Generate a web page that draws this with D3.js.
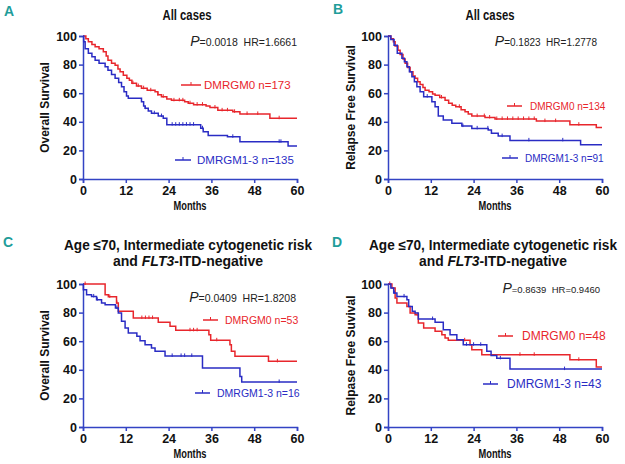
<!DOCTYPE html>
<html>
<head>
<meta charset="utf-8">
<script src="https://cdn.jsdelivr.net/npm/d3@7"></script>
<style>
  body { margin: 0; background: #fff; }
  svg { display: block; }
  .narrow { font-family: "Liberation Sans Narrow", "Arial Narrow", "Liberation Sans", Arial, sans-serif; font-weight: bold; }
  .plain { font-family: "Liberation Sans", Arial, sans-serif; }
</style>
</head>
<body>
<svg width="625" height="464"></svg>
<script>
var RED = "#e8262c", BLUE = "#2a2cc4", AXIS = "#3343c4", TEAL = "#1f9d9a";

var monthTicks = [0, 12, 24, 36, 48, 60];
var survTicks = [0, 20, 40, 60, 80, 100];

// panel A: overall survival, all cases
var osAllM0 = [[0,100],[0.8,98],[1.5,96],[2.5,94],[3.4,92.5],[4.5,91],[5.7,89],[6.5,86],[7,83],[8,81],[9,79.5],[9.8,77],[10.4,75],[11.3,72.5],[12.3,70.5],[13,69],[13.7,67],[15,65],[16.4,63.5],[18,62],[20.2,61],[21,59],[22,57.5],[23.5,56],[24.8,55],[28.5,54],[29.5,53],[31,52],[34.5,51],[35.6,50],[37.8,48],[42,47],[44,45.5],[52.4,42.5],[60,42.5]];
var osAllM13 = [[0,100],[0.2,96],[0.6,91],[1.5,88],[2.5,85.5],[3.4,83],[4.5,81],[6.2,78.5],[7,76],[8,73],[9,70.5],[10,67.5],[10.8,64.5],[11.5,61],[12.2,58],[12.7,56.5],[15.5,56.5],[16.4,54],[17,51],[17.4,49.5],[18.3,47.5],[19.2,46],[21.1,44],[22.5,42.5],[23.5,38],[32.3,38],[33,35.5],[33.7,33],[35.1,30.5],[40.5,29.5],[44,26],[57.5,23],[60,23]];
var osAllM0Cens = [14, 15.5, 17, 19, 21, 22.5, 25.5, 27, 28, 30, 32, 33.5, 37, 39, 40.5, 42.5, 46, 49, 55];
var osAllM13Cens = [17.5, 20, 22, 25, 26, 27, 28, 29, 30, 31, 33.5, 42, 55, 55.5];

// panel B: relapse free survival, all cases
var rfsAllM0 = [[0,100],[0.8,98],[1.5,96],[2,93],[2.8,90],[3.4,87],[4.2,84],[4.8,81],[5.5,78],[6.2,75],[7,72],[7.6,70.5],[8.3,68],[9,66],[9.8,64],[10.4,62],[11.5,61],[12.5,59.5],[13.2,58.5],[14.5,57],[16,55],[17,53],[18,51.5],[19,50.5],[20.5,48.5],[21.6,47],[22.5,45.5],[23.5,44],[27.2,43],[30,42],[41.6,40.5],[51,38],[58.4,36],[60,36]];
var rfsAllM13 = [[0,100],[0.8,97.5],[1.7,93.5],[2.6,88],[3.9,84.5],[4.6,82],[5.3,78.5],[6,75],[6.7,71.5],[7.4,68],[8.1,64.5],[9,61],[10,57.6],[12.3,54],[13.2,50.5],[14.1,44],[15.5,41.3],[17.9,39],[20.7,37],[23.5,35.4],[28.1,34.3],[29,32],[30.9,30],[34.2,27],[54,24],[60,24]];
var rfsAllM0Cens = [15, 20, 25, 27, 28.5, 30.5, 32, 33.5, 35, 36.5, 38, 39.5, 41, 44, 47, 53.5];
var rfsAllM13Cens = [11, 21, 25, 28, 32, 39.5, 49];

// panel C: overall survival, age <=70 subgroup
var osSubM0 = [[0,100],[6.2,92.5],[7.1,91],[9.4,86.7],[9.9,81],[14.1,76.2],[21.1,73.2],[24.4,70.4],[26,67.6],[35.3,64.5],[35.8,60.6],[41.2,57.5],[41.6,53],[42.6,49.4],[52,45.9],[60,45.9]];
var osSubM13 = [[0,100],[0.1,96],[1,92.5],[2.4,91.3],[3.8,89],[5.2,86.7],[6.2,85.5],[9.1,83.2],[9.9,79.7],[10.8,74],[11.8,69.2],[12.7,65.7],[15.1,63.4],[16,60.3],[17.4,57.5],[19.2,55.2],[20.2,53],[23,49.7],[33.5,41.2],[44,35.4],[44.5,31.5],[60,31.5]];
var osSubM0Cens = [0.6, 7.5, 9.5, 16.5, 17.5, 18.5, 19.5, 30, 31, 32, 37.5, 54.5];
var osSubM13Cens = [3, 4, 9.5, 25, 27.5, 28.5, 30.5, 55];

// panel D: relapse free survival, age <=70 subgroup
var rfsSubM0 = [[0,100],[1.1,97.2],[2,90.2],[2.5,86.7],[5.3,84.3],[6.2,79.7],[7.6,78.5],[8.5,72.7],[10,69.2],[13.2,66.9],[15.1,64.5],[16,62.2],[16.9,60.6],[23,57.5],[23.5,54],[26.3,50.5],[51,47],[58.4,42],[60,42]];
var rfsSubM13 = [[0,100],[0.8,97.2],[1.6,93.7],[2.5,91.3],[5.3,89],[5.8,84.3],[6.8,80.9],[7.6,79.7],[8.5,75.5],[13.2,73.2],[15.5,68],[17.4,64.5],[19.3,61],[21.1,57.5],[27.7,53],[28.9,50],[30.5,48],[34.2,40.5],[60,40.5]];
var rfsSubM0Cens = [0.5, 8.2, 21.5, 37, 41, 53.5];
var rfsSubM13Cens = [1.8, 4.5, 12.5, 22, 24, 26, 31.5, 49.5];

var panels = [
  { letter: "A", lx: 4, ly: 16, x0: 83, x1: 297, y0: 179, y1: 36, ylab: "Overall Survival", ylabX: 49,
    title: ["All cases"], tw: [49], tsize: 15, tx: 187, ty: 20,
    stat: "=0.0018  HR=1.6661", sx: 297, sy: 46, pSize: 14, sSize: 10.5,
    m0: osAllM0, m13: osAllM13, c0: osAllM0Cens, c13: osAllM13Cens,
    leg0: { x: 181, w: 20, y: 85, text: "DMRGM0 n=173", size: 11.5, gap: 3 },
    leg13: { x: 175, w: 16, y: 160, text: "DMRGM1-3 n=135", size: 11.5, gap: 6 } },
  { letter: "B", lx: 333, ly: 14, x0: 388, x1: 602, y0: 179, y1: 36, ylab: "Relapse Free Survival", ylabX: 355,
    title: ["All cases"], tw: [49], tsize: 15, tx: 490, ty: 20,
    stat: "=0.1823  HR=1.2778", sx: 597, sy: 46, pSize: 14, sSize: 10,
    m0: rfsAllM0, m13: rfsAllM13, c0: rfsAllM0Cens, c13: rfsAllM13Cens,
    leg0: { x: 507, w: 15, y: 106, text: "DMRGM0 n=134", size: 10, gap: 8 },
    leg13: { x: 502, w: 16, y: 158, text: "DMRGM1-3 n=91", size: 10, gap: 7 } },
  { letter: "C", lx: 3, ly: 247, x0: 83, x1: 297, y0: 427, y1: 284, ylab: "Overall Survival", ylabX: 49,
    title: ["Age \u226470, Intermediate cytogenetic risk", "and |FLT3|-ITD-negative"], tw: [248, 150], tsize: 13.8, tx: 188, ty: 250,
    stat: "=0.0409  HR=1.8208", sx: 296, sy: 302, pSize: 14, sSize: 10.5,
    m0: osSubM0, m13: osSubM13, c0: osSubM0Cens, c13: osSubM13Cens,
    leg0: { x: 203, w: 15, y: 320, text: "DMRGM0 n=53", size: 10.5, gap: 7 },
    leg13: { x: 195, w: 15, y: 393, text: "DMRGM1-3 n=16", size: 10.5, gap: 7 } },
  { letter: "D", lx: 332, ly: 247, x0: 388, x1: 602, y0: 427, y1: 284, ylab: "Relpase Free Suvival", ylabX: 355,
    title: ["Age \u226470, Intermediate cytogenetic risk", "and |FLT3|-ITD-negative"], tw: [248, 148], tsize: 13.8, tx: 493, ty: 250,
    stat: "=0.8639  HR=0.9460", sx: 600, sy: 293, pSize: 14, sSize: 9.5,
    m0: rfsSubM0, m13: rfsSubM13, c0: rfsSubM0Cens, c13: rfsSubM13Cens,
    leg0: { x: 498, w: 15, y: 336, text: "DMRGM0 n=48", size: 12, gap: 9 },
    leg13: { x: 483, w: 15, y: 384, text: "DMRGM1-3 n=43", size: 12, gap: 9 } }
];

var svg = d3.select("svg");

function stepValue(data, t) {
  var v = data[0][1];
  for (var i = 0; i < data.length; i++) {
    if (data[i][0] <= t) v = data[i][1];
  }
  return v;
}

panels.forEach(function(p) {
  var x = d3.scaleLinear().domain([0, 60]).range([p.x0, p.x1]);
  var y = d3.scaleLinear().domain([0, 100]).range([p.y0, p.y1]);
  var g = svg.append("g");

  // panel letter
  g.append("text").attr("class", "narrow").attr("x", p.lx).attr("y", p.ly)
    .attr("fill", TEAL).style("font-size", "14px").text(p.letter);

  // title (pipes mark italic parts), squeezed to the condensed width of the original
  p.title.forEach(function(line, i) {
    var t = g.append("text").attr("class", "narrow").attr("x", p.tx).attr("y", p.ty + i * 16)
      .attr("text-anchor", "middle").style("font-size", p.tsize + "px").attr("fill", "#111")
      .attr("textLength", p.tw[i]).attr("lengthAdjust", "spacingAndGlyphs");
    line.split("|").forEach(function(part, j) {
      t.append("tspan").style("font-style", j % 2 ? "italic" : "normal").text(part);
    });
  });

  // axes
  var xAxis = d3.axisBottom(x).tickValues(monthTicks).tickSize(4).tickPadding(3);
  var yAxis = d3.axisLeft(y).tickValues(survTicks).tickSize(4).tickPadding(2);
  var gx = g.append("g").attr("transform", "translate(0," + p.y0 + ")").call(xAxis);
  var gy = g.append("g").attr("transform", "translate(" + p.x0 + ",0)").call(yAxis);
  [gx, gy].forEach(function(a) {
    a.selectAll("path, line").attr("stroke", AXIS).attr("stroke-width", 1.5);
    a.selectAll("text").attr("class", "narrow").attr("fill", "#111").style("font-size", "12.5px");
  });

  g.append("text").attr("class", "narrow").attr("x", (p.x0 + p.x1) / 2).attr("y", p.y0 + 31)
    .attr("text-anchor", "middle").style("font-size", "12px").attr("fill", "#111")
    .attr("textLength", 33).attr("lengthAdjust", "spacingAndGlyphs").text("Months");

  g.append("text").attr("class", "plain").attr("transform", "translate(" + p.ylabX + "," + ((p.y0 + p.y1) / 2) + ") rotate(-90)")
    .attr("text-anchor", "middle").style("font-size", "12px").style("font-weight", "bold")
    .attr("fill", "#111").text(p.ylab);

  // curves
  var line = d3.line().x(function(d) { return x(d[0]); }).y(function(d) { return y(d[1]); })
    .curve(d3.curveStepAfter);
  [[p.m0, p.c0, RED], [p.m13, p.c13, BLUE]].forEach(function(s) {
    g.append("path").datum(s[0]).attr("d", line).attr("fill", "none")
      .attr("stroke", s[2]).attr("stroke-width", 1.5);
    g.selectAll(null).data(s[1]).enter().append("line")
      .attr("x1", function(t) { return x(t); }).attr("x2", function(t) { return x(t); })
      .attr("y1", function(t) { return y(stepValue(s[0], t)) - 2.5; })
      .attr("y2", function(t) { return y(stepValue(s[0], t)) + 1; })
      .attr("stroke", s[2]).attr("stroke-width", 1);
  });

  // legends
  [[p.leg0, RED], [p.leg13, BLUE]].forEach(function(l) {
    var o = l[0];
    g.append("line").attr("x1", o.x).attr("x2", o.x + o.w).attr("y1", o.y).attr("y2", o.y)
      .attr("stroke", l[1]).attr("stroke-width", 1.5);
    g.append("line").attr("x1", o.x + o.w / 2).attr("x2", o.x + o.w / 2).attr("y1", o.y - 3).attr("y2", o.y)
      .attr("stroke", l[1]).attr("stroke-width", 1);
    g.append("text").attr("class", "plain").attr("x", o.x + o.w + o.gap).attr("y", o.y + o.size * 0.36)
      .style("font-size", o.size + "px").attr("fill", l[1]).text(o.text);
  });

  // P value / hazard ratio
  var st = g.append("text").attr("class", "plain").attr("x", p.sx).attr("y", p.sy)
    .attr("text-anchor", "end").attr("fill", "#222").style("white-space", "pre");
  st.append("tspan").style("font-style", "italic").style("font-size", p.pSize + "px").text("P");
  st.append("tspan").style("font-size", p.sSize + "px").text(p.stat);
});
</script>
</body>
</html>
